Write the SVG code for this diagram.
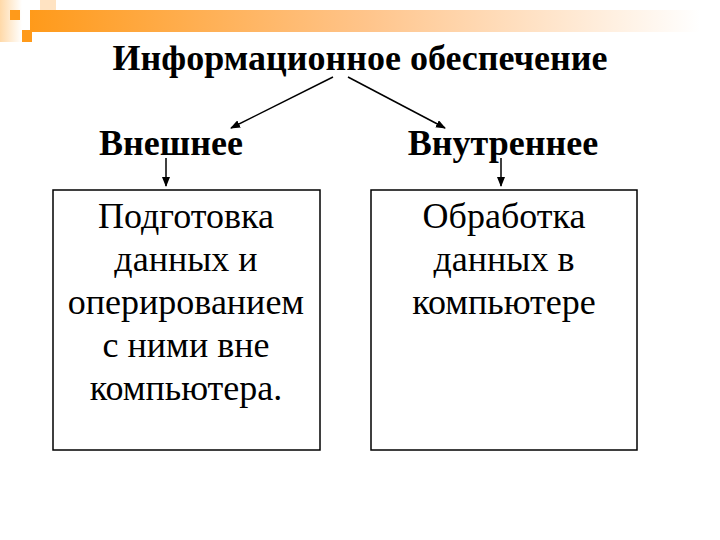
<svg xmlns="http://www.w3.org/2000/svg" width="720" height="540" viewBox="0 0 720 540">
<defs>
<linearGradient id="bar" x1="0" y1="0" x2="1" y2="0">
<stop offset="0" stop-color="#ff9a1a"/>
<stop offset="0.5" stop-color="#ffc48a"/>
<stop offset="1" stop-color="#ffffff"/>
</linearGradient>
<linearGradient id="side" x1="0" y1="0" x2="1" y2="0">
<stop offset="0" stop-color="#ffd9a8"/>
<stop offset="1" stop-color="#ffffff"/>
</linearGradient>
<marker id="ah" markerWidth="10" markerHeight="8" refX="9" refY="4" orient="auto" markerUnits="userSpaceOnUse">
<path d="M0,0 L10,4 L0,8 Z" fill="#000"/>
</marker>
<style>
.t{font-family:"Liberation Serif",serif;fill:#000;text-anchor:middle;font-size:36px}
.b{font-weight:bold}
.box{fill:#fff;stroke:#000;stroke-width:1.5}
.ln{stroke:#000;stroke-width:1.5;fill:none;marker-end:url(#ah)}
</style>
</defs>
<g id="decor">
<rect x="0" y="0" width="22" height="42" fill="url(#side)"/>
<rect x="40" y="0" width="16" height="12" fill="#ffe3c2"/>
<rect x="30" y="10" width="670" height="22" fill="url(#bar)"/>
<rect x="10" y="10" width="10" height="10" fill="#ff9a1a"/>
<rect x="22" y="30" width="10" height="12" fill="#ff9a1a"/>
</g>
<g id="title"><text class="t b" x="360" y="70">Информационное обеспечение</text></g>
<g id="ext"><text class="t b" x="171" y="155">Внешнее</text></g>
<g id="int"><text class="t b" x="503" y="155">Внутреннее</text></g>
<g id="box-left">
<rect class="box" x="53" y="190" width="267" height="260"/>
<text class="t"><tspan x="186" y="228">Подготовка</tspan><tspan x="186" y="271">данных и</tspan><tspan x="186" y="314">оперированием</tspan><tspan x="186" y="357">с ними вне</tspan><tspan x="186" y="400">компьютера.</tspan></text>
</g>
<g id="box-right">
<rect class="box" x="371" y="190" width="266" height="260"/>
<text class="t"><tspan x="504" y="228">Обработка</tspan><tspan x="504" y="271">данных в</tspan><tspan x="504" y="314">компьютере</tspan></text>
</g>
<g id="connectors">
<line class="ln" x1="333" y1="77" x2="231" y2="128"/>
<line class="ln" x1="348" y1="77" x2="445" y2="128"/>
<line class="ln" x1="166" y1="158" x2="166" y2="186"/>
<line class="ln" x1="501" y1="158" x2="501" y2="186"/>
</g>
</svg>
